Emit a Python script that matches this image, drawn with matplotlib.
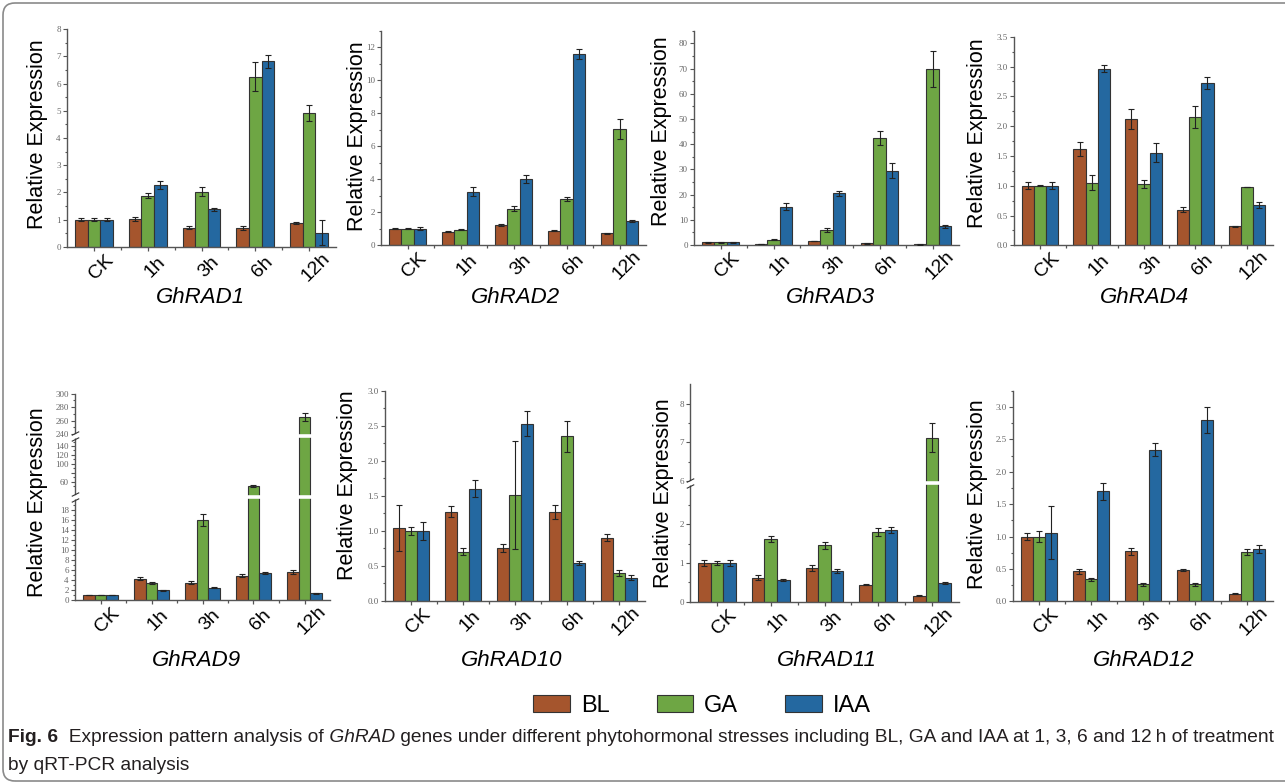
import numpy as np
import matplotlib
matplotlib.use("Agg")
import matplotlib.pyplot as plt
import matplotlib.transforms as mtransforms
from matplotlib import font_manager
from matplotlib.patches import Patch, FancyBboxPatch
from matplotlib.path import Path
from matplotlib.ticker import FixedLocator, FixedFormatter, MultipleLocator

W, H = 1285, 784
plt.rcParams["font.family"] = "Liberation Sans"

times = ["CK", "1h", "3h", "6h", "12h"]
treatments = ["BL", "GA", "IAA"]
bar_colors = ["#A5552D", "#6EA644", "#2468A0"]

# GhRAD1
rad1_bl = [1.00, 1.02, 0.70, 0.68, 0.88]
rad1_ga = [1.00, 1.88, 2.03, 6.25, 4.92]
rad1_iaa = [1.00, 2.26, 1.38, 6.82, 0.52]
rad1_bl_sd = [0.06, 0.08, 0.05, 0.08, 0.03]
rad1_ga_sd = [0.05, 0.08, 0.18, 0.53, 0.28]
rad1_iaa_sd = [0.05, 0.15, 0.06, 0.23, 0.45]

# GhRAD2
rad2_bl = [1.00, 0.82, 1.20, 0.88, 0.70]
rad2_ga = [1.00, 0.93, 2.20, 2.80, 7.03]
rad2_iaa = [1.00, 3.25, 4.02, 11.58, 1.45]
rad2_bl_sd = [0.05, 0.03, 0.07, 0.02, 0.05]
rad2_ga_sd = [0.04, 0.03, 0.15, 0.10, 0.60]
rad2_iaa_sd = [0.08, 0.25, 0.24, 0.30, 0.07]

# GhRAD3
rad3_bl = [1.00, 0.50, 1.60, 0.60, 0.20]
rad3_ga = [1.00, 2.10, 5.80, 42.5, 69.8]
rad3_iaa = [1.00, 15.2, 20.5, 29.5, 7.50]
rad3_bl_sd = [0.05, 0.05, 0.10, 0.05, 0.02]
rad3_ga_sd = [0.05, 0.20, 0.80, 2.80, 7.30]
rad3_iaa_sd = [0.05, 1.40, 1.00, 3.00, 0.60]

# GhRAD4
rad4_bl = [1.00, 1.62, 2.12, 0.60, 0.32]
rad4_ga = [1.00, 1.05, 1.03, 2.15, 0.98]
rad4_iaa = [1.00, 2.96, 1.55, 2.72, 0.68]
rad4_bl_sd = [0.06, 0.12, 0.17, 0.04, 0.01]
rad4_ga_sd = [0.01, 0.13, 0.07, 0.18, 0.005]
rad4_iaa_sd = [0.06, 0.06, 0.16, 0.10, 0.05]

# GhRAD9
rad9_bl = [1.00, 4.20, 3.40, 4.80, 5.60]
rad9_ga = [1.00, 3.40, 16.0, 50.0, 266.0]
rad9_iaa = [1.00, 1.90, 2.40, 5.30, 1.30]
rad9_bl_sd = [0.08, 0.30, 0.30, 0.30, 0.40]
rad9_ga_sd = [0.05, 0.20, 1.20, 3.00, 6.00]
rad9_iaa_sd = [0.06, 0.10, 0.10, 0.20, 0.05]

# GhRAD10
rad10_bl = [1.04, 1.27, 0.75, 1.27, 0.90]
rad10_ga = [1.00, 0.70, 1.51, 2.35, 0.40]
rad10_iaa = [1.00, 1.60, 2.53, 0.54, 0.33]
rad10_bl_sd = [0.33, 0.08, 0.06, 0.10, 0.05]
rad10_ga_sd = [0.06, 0.05, 0.77, 0.22, 0.04]
rad10_iaa_sd = [0.13, 0.12, 0.18, 0.03, 0.04]

# GhRAD11
rad11_bl = [1.00, 0.62, 0.86, 0.44, 0.15]
rad11_ga = [1.00, 1.62, 1.46, 1.80, 7.12]
rad11_iaa = [1.00, 0.56, 0.80, 1.84, 0.49]
rad11_bl_sd = [0.07, 0.07, 0.08, 0.01, 0.01]
rad11_ga_sd = [0.06, 0.07, 0.09, 0.10, 0.37]
rad11_iaa_sd = [0.08, 0.03, 0.05, 0.08, 0.03]

# GhRAD12
rad12_bl = [1.00, 0.46, 0.77, 0.48, 0.12]
rad12_ga = [1.00, 0.34, 0.26, 0.26, 0.76]
rad12_iaa = [1.06, 1.70, 2.34, 2.80, 0.81]
rad12_bl_sd = [0.05, 0.04, 0.06, 0.02, 0.005]
rad12_ga_sd = [0.08, 0.02, 0.02, 0.03, 0.05]
rad12_iaa_sd = [0.41, 0.13, 0.10, 0.20, 0.06]

genes = ["GhRAD1", "GhRAD2", "GhRAD3", "GhRAD4", "GhRAD9", "GhRAD10", "GhRAD11", "GhRAD12"]
means = [
    [rad1_bl, rad1_ga, rad1_iaa], [rad2_bl, rad2_ga, rad2_iaa],
    [rad3_bl, rad3_ga, rad3_iaa], [rad4_bl, rad4_ga, rad4_iaa],
    [rad9_bl, rad9_ga, rad9_iaa], [rad10_bl, rad10_ga, rad10_iaa],
    [rad11_bl, rad11_ga, rad11_iaa], [rad12_bl, rad12_ga, rad12_iaa],
]
sds = [
    [rad1_bl_sd, rad1_ga_sd, rad1_iaa_sd], [rad2_bl_sd, rad2_ga_sd, rad2_iaa_sd],
    [rad3_bl_sd, rad3_ga_sd, rad3_iaa_sd], [rad4_bl_sd, rad4_ga_sd, rad4_iaa_sd],
    [rad9_bl_sd, rad9_ga_sd, rad9_iaa_sd], [rad10_bl_sd, rad10_ga_sd, rad10_iaa_sd],
    [rad11_bl_sd, rad11_ga_sd, rad11_iaa_sd], [rad12_bl_sd, rad12_ga_sd, rad12_iaa_sd],
]

# axes boxes in pixels: left, right, top, bottom
boxes = [
    (67, 336, 29.3, 246.7), (381, 646, 31, 245), (694, 959, 30.7, 245), (1014, 1273, 36.7, 245.3),
    (75, 330, 393.7, 600), (385, 645, 390.7, 600.7), (690, 959, 384.2, 601.7), (1013, 1273, 390.7, 601.3),
]
ytops = [8, 13, 85, 3.5, 300, 3.0, 8.5, 3.25]
ysteps = [1, 2, 10, 0.5, None, 0.5, None, 0.5]
ylab_pos = [(38, 134), (357, 136), (662, 131), (977, 133), (38, 502), (348, 485), (663, 493), (977, 494)]
gene_pos = [(200, 298), (515, 298), (830, 298), (1144, 298), (196, 660), (512, 660), (827, 660), (1144, 660)]

# broken axes (piecewise linear y scales)
rad9_vals = [0, 20, 30, 160, 240, 300]
rad9_pix = [0, 100.3, 105, 162.9, 166, 206.3]
rad9_major = [0, 2, 4, 6, 8, 10, 12, 14, 16, 18, 60, 80, 100, 120, 140, 240, 260, 280, 300]
rad9_labels = ["0", "2", "4", "6", "8", "10", "12", "14", "16", "18", "60", "", "100", "120", "140",
               "240", "260", "280", "300"]
rad9_minor = [1, 3, 5, 7, 9, 11, 13, 15, 17, 19, 50, 70, 90, 110, 130, 150, 250, 270, 290]
rad9_breaks = [25, 200]

rad11_vals = [0, 3, 6, 8.5]
rad11_pix = [0, 116.4, 120.5, 217.5]
rad11_major = [0, 1, 2, 6, 7, 8]
rad11_minor = [0.5, 1.5, 2.5, 6.5, 7.5]
rad11_breaks = [4.5]

fig = plt.figure(figsize=(W / 100, H / 100), dpi=100)
bw = 0.235
shift = mtransforms.ScaledTranslation(7 / 100, 0, fig.dpi_scale_trans)

slash = Path([(-1, -1.3), (1, -0.3), (-1, 0.3), (1, 1.3)],
             [Path.MOVETO, Path.LINETO, Path.MOVETO, Path.LINETO])


def piecewise(vals, pix):
    fwd = lambda v: np.interp(v, vals, pix)
    inv = lambda p: np.interp(p, pix, vals)
    return fwd, inv


for i, gene in enumerate(genes):
    l, r, t, b = boxes[i]
    ax = fig.add_axes([l / W, 1 - b / H, (r - l) / W, (b - t) / H])

    if gene == "GhRAD9":
        ax.set_yscale("function", functions=piecewise(rad9_vals, rad9_pix))
    elif gene == "GhRAD11":
        ax.set_yscale("function", functions=piecewise(rad11_vals, rad11_pix))

    x = np.arange(len(times))
    for k in range(3):
        ax.bar(x + (k - 1) * bw, means[i][k], bw, yerr=sds[i][k], color=bar_colors[k],
               edgecolor="#333333", linewidth=0.8, zorder=2,
               error_kw=dict(ecolor="#222222", elinewidth=0.8, capsize=2, capthick=0.8, zorder=3))

    ax.set_xlim(-0.5, 4.5)
    ax.set_ylim(0, ytops[i])

    if gene == "GhRAD9":
        ax.yaxis.set_major_locator(FixedLocator(rad9_major))
        ax.yaxis.set_major_formatter(FixedFormatter(rad9_labels))
        ax.yaxis.set_minor_locator(FixedLocator(rad9_minor))
        breaks = rad9_breaks
    elif gene == "GhRAD11":
        ax.yaxis.set_major_locator(FixedLocator(rad11_major))
        ax.yaxis.set_major_formatter(FixedFormatter([str(v) for v in rad11_major]))
        ax.yaxis.set_minor_locator(FixedLocator(rad11_minor))
        breaks = rad11_breaks
    else:
        ax.yaxis.set_major_locator(MultipleLocator(ysteps[i]))
        ax.yaxis.set_minor_locator(MultipleLocator(ysteps[i] / 2))
        breaks = []

    for yb in breaks:
        ax.axhline(yb, xmin=0.006, xmax=1, color="white", lw=2.6, zorder=4)
        ax.plot([0], [yb], transform=ax.get_yaxis_transform(), marker="s", ms=3.2,
                mfc="white", mec="none", clip_on=False, zorder=5)
        ax.plot([0], [yb], transform=ax.get_yaxis_transform(), marker=slash, ms=7,
                mec="#333333", mew=0.8, ls="none", clip_on=False, zorder=6)

    for s in ["top", "right"]:
        ax.spines[s].set_visible(False)
    for s in ["left", "bottom"]:
        ax.spines[s].set_color("#555555")
        ax.spines[s].set_linewidth(1.0)

    ax.set_xticks(x)
    ax.set_xticklabels(times)
    ax.set_xticks(x[:-1] + 0.5, minor=True)
    ax.tick_params(axis="x", which="major", length=3, width=0.9, color="#555555", pad=11.6,
                   labelsize=14, labelrotation=45)
    ax.tick_params(axis="x", which="minor", length=2.5, width=0.9, color="#555555")
    ax.tick_params(axis="y", which="major", length=3, width=0.8, color="#555555", pad=1.5,
                   labelsize=6.5, labelcolor="#666666", labelfontfamily="Liberation Serif")
    ax.tick_params(axis="y", which="minor", length=1.8, width=0.8, color="#555555")
    for lab in ax.get_xticklabels():
        lab.set_ha("center")
        lab.set_va("center")
        lab.set_rotation_mode("anchor")
        lab.set_transform(lab.get_transform() + shift)

    fig.text(ylab_pos[i][0] / W, 1 - ylab_pos[i][1] / H, "Relative Expression", rotation=90,
             ha="center", va="center", fontsize=15.5)
    fig.text(gene_pos[i][0] / W, 1 - gene_pos[i][1] / H, gene, style="italic",
             ha="center", va="center", fontsize=16)

names = {f.name for f in font_manager.fontManager.ttflist}
cap_font = "Liberation Sans Narrow" if "Liberation Sans Narrow" in names else "Liberation Sans"

handles = [Patch(facecolor=c, edgecolor="#333333", linewidth=0.8, label=n)
           for c, n in zip(bar_colors, treatments)]
fig.legend(handles=handles, loc="center", bbox_to_anchor=(702 / W, 1 - 706 / H), ncol=3,
           frameon=False, prop=dict(family=cap_font, size=17), handlelength=1.56,
           handleheight=0.76, handletextpad=0.45, columnspacing=2.0)

# caption
renderer = fig.canvas.get_renderer()
line1 = [("Fig. 6", dict(weight="bold")),
         ("  Expression pattern analysis of", {}),
         (" GhRAD", dict(style="italic")),
         (" genes under different phytohormonal stresses including BL, GA and IAA at 1, 3, 6 and 12\u2009h of treatment", {})]
line2 = [("by qRT-PCR analysis", {})]


def caption_line(y_px, runs, size):
    xpos = 8
    made = []
    for s, kw in runs:
        tx = fig.text(xpos / W, 1 - y_px / H, s, fontsize=size, family=[cap_font, "DejaVu Sans"],
                      va="center", ha="left", color="#231f20", **kw)
        xpos = tx.get_window_extent(renderer).x1
        made.append(tx)
    return made, xpos


trial, end = caption_line(737, line1, 12)
for tx in trial:
    tx.remove()
cap_size = 12 * (1275 - 8) / (end - 8)
caption_line(737, line1, cap_size)
caption_line(765, line2, cap_size)

border = FancyBboxPatch((3, 3), 1320, 778, boxstyle="round,pad=0,rounding_size=12",
                        transform=mtransforms.IdentityTransform(), fc="none", ec="#8a8a8a", lw=1.2)
fig.add_artist(border)

fig.savefig("out.png", dpi=100)
